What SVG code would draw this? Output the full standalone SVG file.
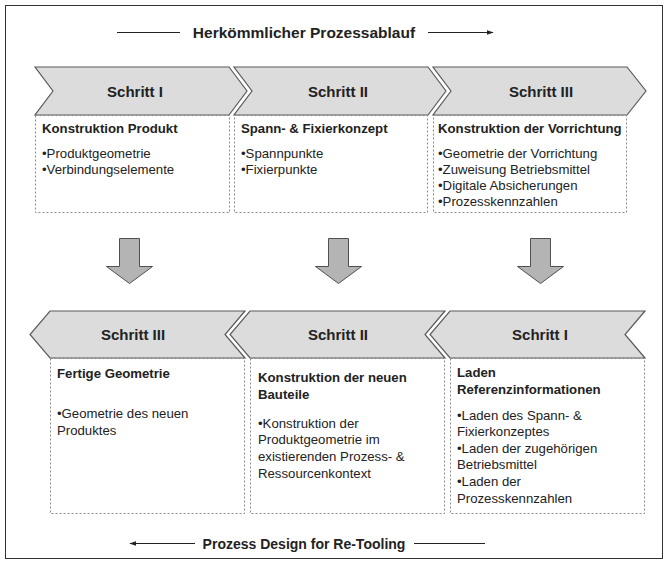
<svg xmlns="http://www.w3.org/2000/svg" width="669" height="564" viewBox="0 0 669 564">
  <defs>
    <style>
      .frame { fill: #ffffff; stroke: #333333; stroke-width: 1; }
      .chev { fill: #dcdcdc; stroke: #5a5a5a; stroke-width: 1.2; stroke-linejoin: miter; }
      .box { fill: none; stroke: #8a8a8a; stroke-width: 1; stroke-dasharray: 2 2; }
      .down { fill: #b4b4b4; stroke: #505050; stroke-width: 1; }
      .step { font-family: "Liberation Sans", Arial, sans-serif; font-weight: bold; font-size: 15px; fill: #222222; text-anchor: middle; }
      .head { font-family: "Liberation Sans", Arial, sans-serif; font-weight: bold; font-size: 13.2px; fill: #222222; }
      .body { font-family: "Liberation Sans", Arial, sans-serif; font-size: 13.2px; fill: #222222; }
      .title { font-family: "Liberation Sans", Arial, sans-serif; font-weight: bold; fill: #222222; text-anchor: middle; }
      .flow { stroke: #222222; stroke-width: 1; fill: none; }
    </style>
    <marker id="tip" viewBox="0 0 10 10" refX="9" refY="5" markerWidth="7" markerHeight="7" orient="auto-start-reverse" markerUnits="userSpaceOnUse">
      <path d="M0,1.5 L10,5 L0,8.5 Z" fill="#222222"/>
    </marker>
  </defs>

  <rect class="frame" x="5.5" y="5.5" width="657" height="553"/>

  <!-- upper flow heading -->
  <g id="title-top">
    <line class="flow" x1="117" y1="32.5" x2="180" y2="32.5"/>
    <text class="title" x="304" y="38" font-size="15.5">Herkömmlicher Prozessablauf</text>
    <line class="flow" x1="428" y1="32.5" x2="493" y2="32.5" marker-end="url(#tip)"/>
  </g>

  <!-- upper row: steps pointing right -->
  <g id="step-top-1">
    <polygon class="chev" points="35,67 229,67 247,91 229,115 35,115 53,91"/>
    <text class="step" x="135" y="96.5">Schritt I</text>
    <rect class="box" x="35.5" y="115.5" width="194" height="97"/>
    <text class="head" x="42" y="133">Konstruktion Produkt</text>
    <text class="body" x="42" y="157.5">•Produktgeometrie</text>
    <text class="body" x="42" y="173.5">•Verbindungselemente</text>
  </g>
  <g id="step-top-2">
    <polygon class="chev" points="234,67 428,67 446,91 428,115 234,115 252,91"/>
    <text class="step" x="338" y="96.5">Schritt II</text>
    <rect class="box" x="234.5" y="115.5" width="193" height="97"/>
    <text class="head" x="241" y="133">Spann- &amp; Fixierkonzept</text>
    <text class="body" x="241" y="157.5">•Spannpunkte</text>
    <text class="body" x="241" y="173.5">•Fixierpunkte</text>
  </g>
  <g id="step-top-3">
    <polygon class="chev" points="433,67 627,67 646,91 627,115 433,115 451,91"/>
    <text class="step" x="541" y="96.5">Schritt III</text>
    <rect class="box" x="433.5" y="115.5" width="193" height="97"/>
    <text class="head" x="438" y="133">Konstruktion der Vorrichtung</text>
    <text class="body" x="438" y="157.5">•Geometrie der Vorrichtung</text>
    <text class="body" x="438" y="173.5">•Zuweisung Betriebsmittel</text>
    <text class="body" x="438" y="189.5">•Digitale Absicherungen</text>
    <text class="body" x="438" y="205.5">•Prozesskennzahlen</text>
  </g>

  <!-- transitions between the two rows -->
  <g id="connectors">
    <polygon class="down" points="119.5,238.5 139.5,238.5 139.5,266.5 152.5,266.5 129.5,283.5 106.5,266.5 119.5,266.5"/>
    <polygon class="down" points="328.5,238.5 348.5,238.5 348.5,266.5 361.5,266.5 338.5,283.5 315.5,266.5 328.5,266.5"/>
    <polygon class="down" points="530.5,238.5 550.5,238.5 550.5,266.5 563.5,266.5 540.5,283.5 517.5,266.5 530.5,266.5"/>
  </g>

  <!-- lower row: steps pointing left -->
  <g id="step-bottom-3">
    <polygon class="chev" points="50,311 245,311 225,334.5 245,358 50,358 30,334.5"/>
    <text class="step" x="133" y="340">Schritt III</text>
    <rect class="box" x="50.5" y="358.5" width="194" height="155"/>
    <text class="head" x="57" y="378">Fertige Geometrie</text>
    <text class="body" x="57" y="417.5">•Geometrie des neuen</text>
    <text class="body" x="57" y="434.5">Produktes</text>
  </g>
  <g id="step-bottom-2">
    <polygon class="chev" points="250,311 445,311 425,334.5 445,358 250,358 230,334.5"/>
    <text class="step" x="338" y="340">Schritt II</text>
    <rect class="box" x="250.5" y="358.5" width="194" height="155"/>
    <text class="head" x="258" y="382">Konstruktion der neuen</text>
    <text class="head" x="258" y="399">Bauteile</text>
    <text class="body" x="258" y="427.5">•Konstruktion der</text>
    <text class="body" x="258" y="444">Produktgeometrie im</text>
    <text class="body" x="258" y="460.5">existierenden Prozess- &amp;</text>
    <text class="body" x="258" y="477.5">Ressourcenkontext</text>
  </g>
  <g id="step-bottom-1">
    <polygon class="chev" points="450,311 645,311 625,334.5 645,358 450,358 430,334.5"/>
    <text class="step" x="540" y="340">Schritt I</text>
    <rect class="box" x="450.5" y="358.5" width="194" height="155"/>
    <text class="head" x="457" y="377">Laden</text>
    <text class="head" x="457" y="394">Referenzinformationen</text>
    <text class="body" x="457" y="419.5">•Laden des Spann- &amp;</text>
    <text class="body" x="457" y="436">Fixierkonzeptes</text>
    <text class="body" x="457" y="452.5">•Laden der zugehörigen</text>
    <text class="body" x="457" y="469">Betriebsmittel</text>
    <text class="body" x="457" y="485.5">•Laden der</text>
    <text class="body" x="457" y="502.5">Prozesskennzahlen</text>
  </g>

  <!-- lower flow heading -->
  <g id="title-bottom">
    <line class="flow" x1="195" y1="543.5" x2="130" y2="543.5" marker-end="url(#tip)"/>
    <text class="title" x="304" y="548.5" font-size="14">Prozess Design for Re-Tooling</text>
    <line class="flow" x1="414" y1="543.5" x2="485" y2="543.5"/>
  </g>
</svg>
